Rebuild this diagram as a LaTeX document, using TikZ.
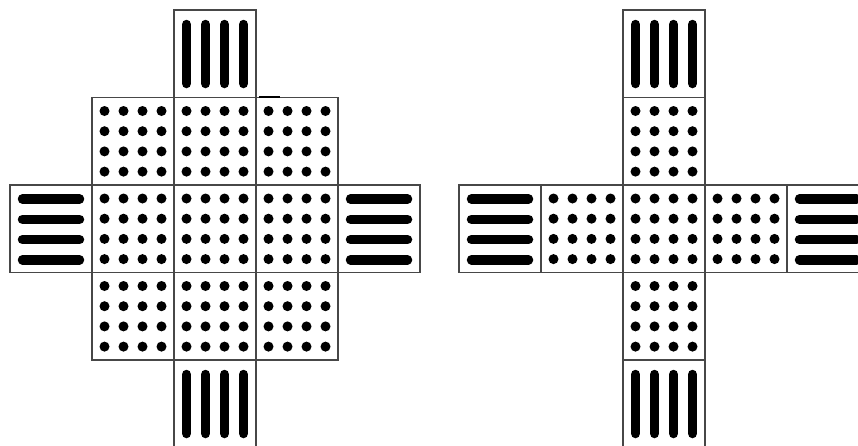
\documentclass[tikz,border=0pt]{standalone}
\begin{document}
\begin{tikzpicture}[x=1pt,y=-1pt,
  tileframe/.style={draw=black!72, line width=1.4pt, fill=white},
  barline/.style={line width=9.5pt, line cap=round, draw=black},
  dotmark/.style={fill=black, draw=none},
  dottile/.pic={
    \draw[tileframe] (0,0) rectangle (82,87.5);
    \foreach \i in {0,...,3}{\foreach \j in {0,...,3}{
      \fill[dotmark] (12.5+19*\i,13.5+20.2*\j) circle[radius=5pt];}}
  },
  vbartile/.pic={
    \draw[tileframe] (0,0) rectangle (82,87.5);
    \foreach \i in {0,...,3}{
      \draw[barline] (12.5+19*\i,14.5) -- (12.5+19*\i,73.5);}
  },
  hbartile/.pic={
    \draw[tileframe] (0,0) rectangle (82,87.5);
    \foreach \j in {0,...,3}{
      \draw[barline] (12.5,14+20.3*\j) -- (69.5,14+20.3*\j);}
  }]
\path[use as bounding box, fill=white] (0,0) rectangle (858,445);
\clip (0,0) rectangle (858,445);
% left figure
\pic at (174,10) {vbartile};
\foreach \c in {92,174,256}{
  \foreach \r in {97.5,185,272.5}{
    \pic at (\c,\r) {dottile};}}
\pic at (10,185) {hbartile};
\pic at (338,185) {hbartile};
\pic at (174,360) {vbartile};
\draw[line width=2pt, black] (259,97) -- (280,97);
% right figure
\pic at (623,10) {vbartile};
\pic at (623,97.5) {dottile};
\pic at (459,185) {hbartile};
\pic at (541,185) {dottile};
\pic at (623,185) {dottile};
\pic at (705,185) {dottile};
\pic at (787,185) {hbartile};
\pic at (623,272.5) {dottile};
\pic at (623,360) {vbartile};
\end{tikzpicture}
\end{document}
